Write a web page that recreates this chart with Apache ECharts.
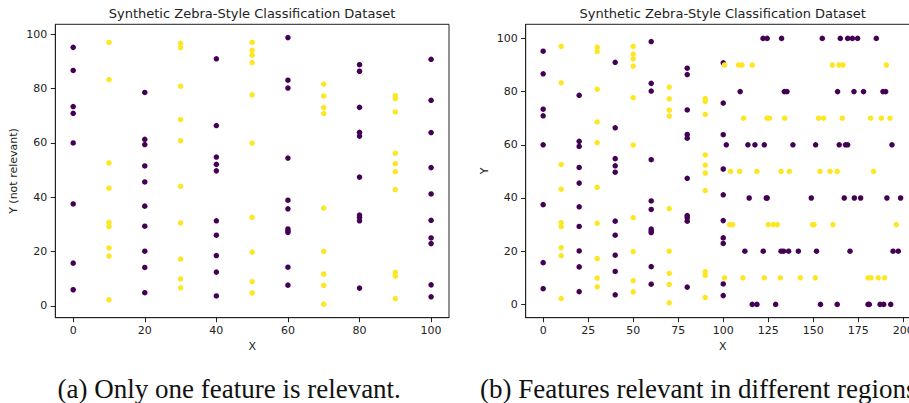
<!DOCTYPE html>
<html>
<head>
<meta charset="utf-8">
<script src="https://cdn.jsdelivr.net/npm/echarts@6/dist/echarts.min.js"></script>
<style>
html,body{margin:0;padding:0;background:#fff;}
#c{width:909px;height:403px;}
</style>
</head>
<body>
<div id="c"></div>
<script>
// ---- Data ----
// Vertical columns (x = 0,10,...,100): y values of points in each column
const col0   = [95.2, 86.7, 73.4, 70.9, 60.0, 37.5, 15.7, 5.9];
const col10  = [97.0, 83.3, 52.6, 43.3, 30.7, 29.2, 21.3, 18.3, 2.2];
const col20  = [78.6, 61.3, 59.4, 51.5, 45.6, 36.7, 29.3, 20.1, 14.1, 4.8];
const col30  = [96.7, 95.1, 80.9, 68.6, 60.8, 44.0, 30.5, 17.2, 9.9, 6.6];
const col40  = [91.0, 66.4, 54.8, 52.1, 49.7, 31.3, 26.0, 18.5, 12.4, 3.6];
const col50  = [97.0, 94.1, 92.3, 89.6, 77.7, 59.9, 32.6, 19.8, 8.9, 4.7];
const col60  = [98.8, 83.1, 80.2, 54.4, 38.9, 35.7, 28.3, 27.6, 27.0, 14.2, 7.6];
const col70  = [81.7, 77.3, 73.0, 70.8, 36.0, 20.0, 11.7, 7.5, 0.6];
const col80  = [88.8, 86.4, 73.1, 63.9, 62.5, 47.4, 33.4, 32.6, 31.3, 6.5];
const col90  = [77.4, 76.3, 71.4, 56.2, 52.4, 49.4, 42.8, 12.3, 10.9, 2.6];
const col100 = [90.8, 75.7, 63.8, 50.9, 41.2, 31.5, 25.0, 22.9, 7.7, 3.3];
const columnX = [0, 10, 20, 30, 40, 50, 60, 70, 80, 90, 100];
const columns = [col0, col10, col20, col30, col40, col50, col60, col70, col80, col90, col100];

// Horizontal stripes (y = 100,90,...,0) for x > 100: x values of points in each stripe
const row100 = [122.1, 124.4, 132.4, 155.0, 165.0, 169.1, 171.7, 174.6, 185.0];
const row90  = [100.7, 108.5, 110.4, 116.1, 160.6, 164.3, 166.5, 190.6];
const row80  = [109.4, 133.9, 135.4, 163.5, 172.6, 177.9, 188.7, 190.2];
const row70  = [111.3, 124.3, 125.7, 134.1, 152.9, 155.7, 166.1, 181.8, 187.8, 192.6];
const row60  = [101.7, 113.7, 117.6, 122.8, 138.7, 151.3, 164.4, 167.9, 169.1, 193.7];
const row50  = [104.1, 109.1, 118.7, 132.1, 136.7, 153.7, 159.3, 163.3, 183.5];
const row40  = [114.4, 123.9, 124.4, 148.9, 167.2, 172.8, 176.3, 190.9, 198.5];
const row30  = [103.5, 105.2, 125.0, 127.8, 130.0, 149.6, 150.4, 160.9, 196.1];
const row20  = [112.0, 122.2, 132.1, 133.5, 136.3, 141.7, 151.8, 170.4, 194.3, 197.2];
const row10  = [100.7, 110.9, 122.8, 131.7, 142.8, 151.1, 180.4, 182.1, 186.1, 189.6];
const row0   = [116.1, 118.7, 129.1, 154.0, 163.3, 180.4, 181.1, 187.1, 189.1, 193.0];
const rowY = [100, 90, 80, 70, 60, 50, 40, 30, 20, 10, 0];
const rows = [row100, row90, row80, row70, row60, row50, row40, row30, row20, row10, row0];

// Tick labels
const xTicksA = [0, 20, 40, 60, 80, 100];
const xTicksB = [0, 25, 50, 75, 100, 125, 150, 175, 200];
const yTicks  = [0, 20, 40, 60, 80, 100];

const titleText = 'Synthetic Zebra-Style Classification Dataset';
const captionA = '(a) Only one feature is relevant.';
const captionB = '(b) Features relevant in different regions';

// ---- Build point lists ----
function classOf(v) { return (Math.round(v / 10) % 2 === 0) ? 0 : 1; }
const colPts = [[], []];
columns.forEach((ys, i) => {
  const x = columnX[i], k = classOf(x);
  ys.forEach(y => colPts[k].push([x, y]));
});
const rowPts = [[], []];
rows.forEach((xs, i) => {
  const y = rowY[i], k = classOf(y);
  xs.forEach(x => rowPts[k].push([x, y]));
});

const PURPLE = '#440154', YELLOW = '#fde725';
const font = 'DejaVu Sans';

function xAxisDef(idx, min, max, ticks, labelTicks) {
  return {
    type: 'value', gridIndex: idx, min: min, max: max,
    name: 'X', nameLocation: 'middle', nameGap: 20,
    nameTextStyle: {fontFamily: font, fontSize: 11, color: '#222'},
    axisLine: {show: true, onZero: false, lineStyle: {color: '#222', width: 1}},
    axisTick: {show: true, inside: false, length: 4.5, customValues: ticks, lineStyle: {color: '#222'}},
    axisLabel: {customValues: labelTicks, margin: 7, fontFamily: font, fontSize: 11, color: '#222'},
    splitLine: {show: false}
  };
}
function yAxisDef(idx, min, max, name, gap) {
  return {
    type: 'value', gridIndex: idx, min: min, max: max,
    name: name, nameLocation: 'middle', nameGap: gap, nameRotate: 90,
    nameTextStyle: {fontFamily: font, fontSize: 11, color: '#222'},
    axisLine: {show: true, onZero: false, lineStyle: {color: '#222', width: 1}},
    axisTick: {show: true, inside: false, length: 4.5, customValues: yTicks, lineStyle: {color: '#222'}},
    axisLabel: {customValues: yTicks, margin: 8, fontFamily: font, fontSize: 11, color: '#222'},
    splitLine: {show: false}
  };
}
function sc(name, xi, data, color) {
  return {
    type: 'scatter', name: name, xAxisIndex: xi, yAxisIndex: xi, data: data,
    symbol: 'circle', symbolSize: 5.5, itemStyle: {color: color, opacity: 1},
    silent: true, animation: false
  };
}

const chart = echarts.init(document.getElementById('c'), null, {renderer: 'svg', width: 909, height: 403});
chart.setOption({
  animation: false,
  backgroundColor: '#fff',
  grid: [
    {left: 55.3, top: 24.3, width: 393.7, height: 293.4, show: true, borderColor: '#222', borderWidth: 1, containLabel: false, outerBoundsMode: 'none'},
    {left: 525.7, top: 24.3, width: 394, height: 293.4, show: true, borderColor: '#222', borderWidth: 1, containLabel: false, outerBoundsMode: 'none'}
  ],
  xAxis: [
    xAxisDef(0, -5, 105, xTicksA, xTicksA),
    xAxisDef(1, -9.7, 209.1, xTicksB, xTicksB)
  ],
  yAxis: [
    yAxisDef(0, -4.4, 103.7, 'Y (not relevant)', 36),
    yAxisDef(1, -5, 105.3, 'Y', 36)
  ],
  series: [
    sc('a0', 0, colPts[0], PURPLE),
    sc('a1', 0, colPts[1], YELLOW),
    sc('b0', 1, colPts[0].concat(rowPts[0]), PURPLE),
    sc('b1', 1, colPts[1].concat(rowPts[1]), YELLOW)
  ],
  graphic: [
    {type: 'text', x: 252, y: 13.5, style: {text: titleText, fontFamily: font, fontSize: 13, fill: '#222', textAlign: 'center', textVerticalAlign: 'middle'}},
    {type: 'text', x: 722.7, y: 13.5, style: {text: titleText, fontFamily: font, fontSize: 13, fill: '#222', textAlign: 'center', textVerticalAlign: 'middle'}},
    {type: 'text', x: 229.2, y: 389, style: {text: captionA, fontFamily: 'Liberation Serif', fontSize: 27, fill: '#111', textAlign: 'center', textVerticalAlign: 'middle'}},
    {type: 'text', x: 480, y: 389, style: {text: captionB, fontFamily: 'Liberation Serif', fontSize: 27, fill: '#111', textAlign: 'left', textVerticalAlign: 'middle'}}
  ]
});
</script>
</body>
</html>
